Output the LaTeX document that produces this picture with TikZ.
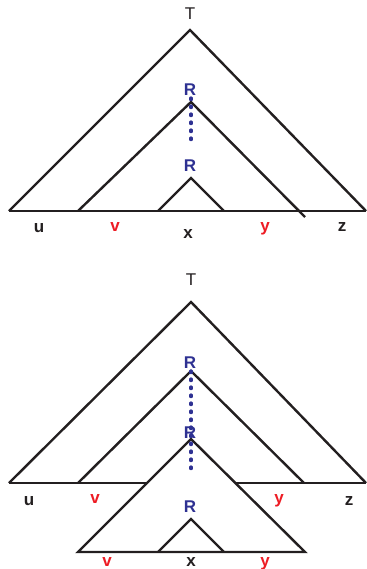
\documentclass[tikz,border=0pt]{standalone}
\usepackage{fontspec}
\setmainfont{Liberation Sans}
\definecolor{rblue}{HTML}{2E3192}
\definecolor{lred}{HTML}{ED1C24}
\definecolor{lblack}{HTML}{231F20}
\tikzset{
  edge/.style={draw=lblack, line width=2.4pt, line join=miter},
  dots/.style={draw=rblue, line width=3.2pt, line cap=round, dash pattern=on 1.6pt off 6.4pt},
  lab/.style={inner sep=0pt, anchor=base, font=\fontsize{17}{19}\selectfont\bfseries, text=lblack},
  redlab/.style={lab, text=lred},
  rlab/.style={lab, text=rblue},
  tlab/.style={inner sep=0pt, anchor=base, font=\fontsize{17}{19}\selectfont, text=lblack}
}
\begin{document}
\begin{tikzpicture}[x=1pt,y=-1pt]
\useasboundingbox (0,0) rectangle (366,569);
% ---------- top diagram ----------
\coordinate (a1) at (9,211);   \coordinate (t1) at (190,30);  \coordinate (b1) at (366,211);
\coordinate (a2) at (78,211);  \coordinate (t2) at (191,102); \coordinate (b2) at (305,217);
\coordinate (a3) at (158,211); \coordinate (t3) at (191,178); \coordinate (b3) at (224,211);
\coordinate (d1) at (191,98);  \coordinate (d2) at (191,141);
\draw[edge] (a1) -- (b1);
\draw[edge] (a1) -- (t1) -- (b1);
\draw[edge] (a2) -- (t2) -- (b2);
\draw[edge] (a3) -- (t3) -- (b3);
\draw[dots] (d1) -- (d2);
\node[tlab] (T1) at (190,20) {T};
\node[rlab] (R1) at (190,96) {R};
\node[rlab] (R2) at (190,171.5) {R};
\node[lab] (u1) at (39,232) {u};
\node[redlab] (v1) at (115,231.5) {v};
\node[lab] (x1) at (188,238) {x};
\node[redlab] (y1) at (265,231) {y};
\node[lab] (z1) at (342,231.5) {z};
% ---------- bottom diagram ----------
\coordinate (p1) at (9,483);   \coordinate (s1) at (191,302); \coordinate (q1) at (366,483);
\coordinate (p2) at (78,483);  \coordinate (s2) at (191,371); \coordinate (q2) at (304,483);
\coordinate (p3) at (78,552);  \coordinate (s3) at (191,439); \coordinate (q3) at (305,552);
\coordinate (p4) at (158,552); \coordinate (s4) at (191,519); \coordinate (q4) at (224,552);
\coordinate (m1) at (146,483); \coordinate (m2) at (236,483);
\coordinate (e1) at (191,371); \coordinate (e2) at (191,472);
\draw[edge] (p1) -- (m1);
\draw[edge] (m2) -- (q1);
\draw[edge] (p1) -- (s1) -- (q1);
\draw[edge] (p2) -- (s2) -- (q2);
\draw[edge] (p3) -- (s3) -- (q3) -- cycle;
\draw[edge] (p4) -- (s4) -- (q4);
\draw[dots] (e1) -- (e2);
\node[tlab] (T2) at (191,285.5) {T};
\node[rlab] (R3) at (190,368) {R};
\node[rlab] (R4) at (190,438) {R};
\node[rlab] (R5) at (190,512) {R};
\node[lab] (u2) at (29,505) {u};
\node[redlab] (v2) at (95,503) {v};
\node[redlab] (y2) at (279,503) {y};
\node[lab] (z2) at (349,505) {z};
\node[redlab] (v3) at (107,566) {v};
\node[lab] (x3) at (191,566) {x};
\node[redlab] (y3) at (265,566) {y};
\end{tikzpicture}
\end{document}
